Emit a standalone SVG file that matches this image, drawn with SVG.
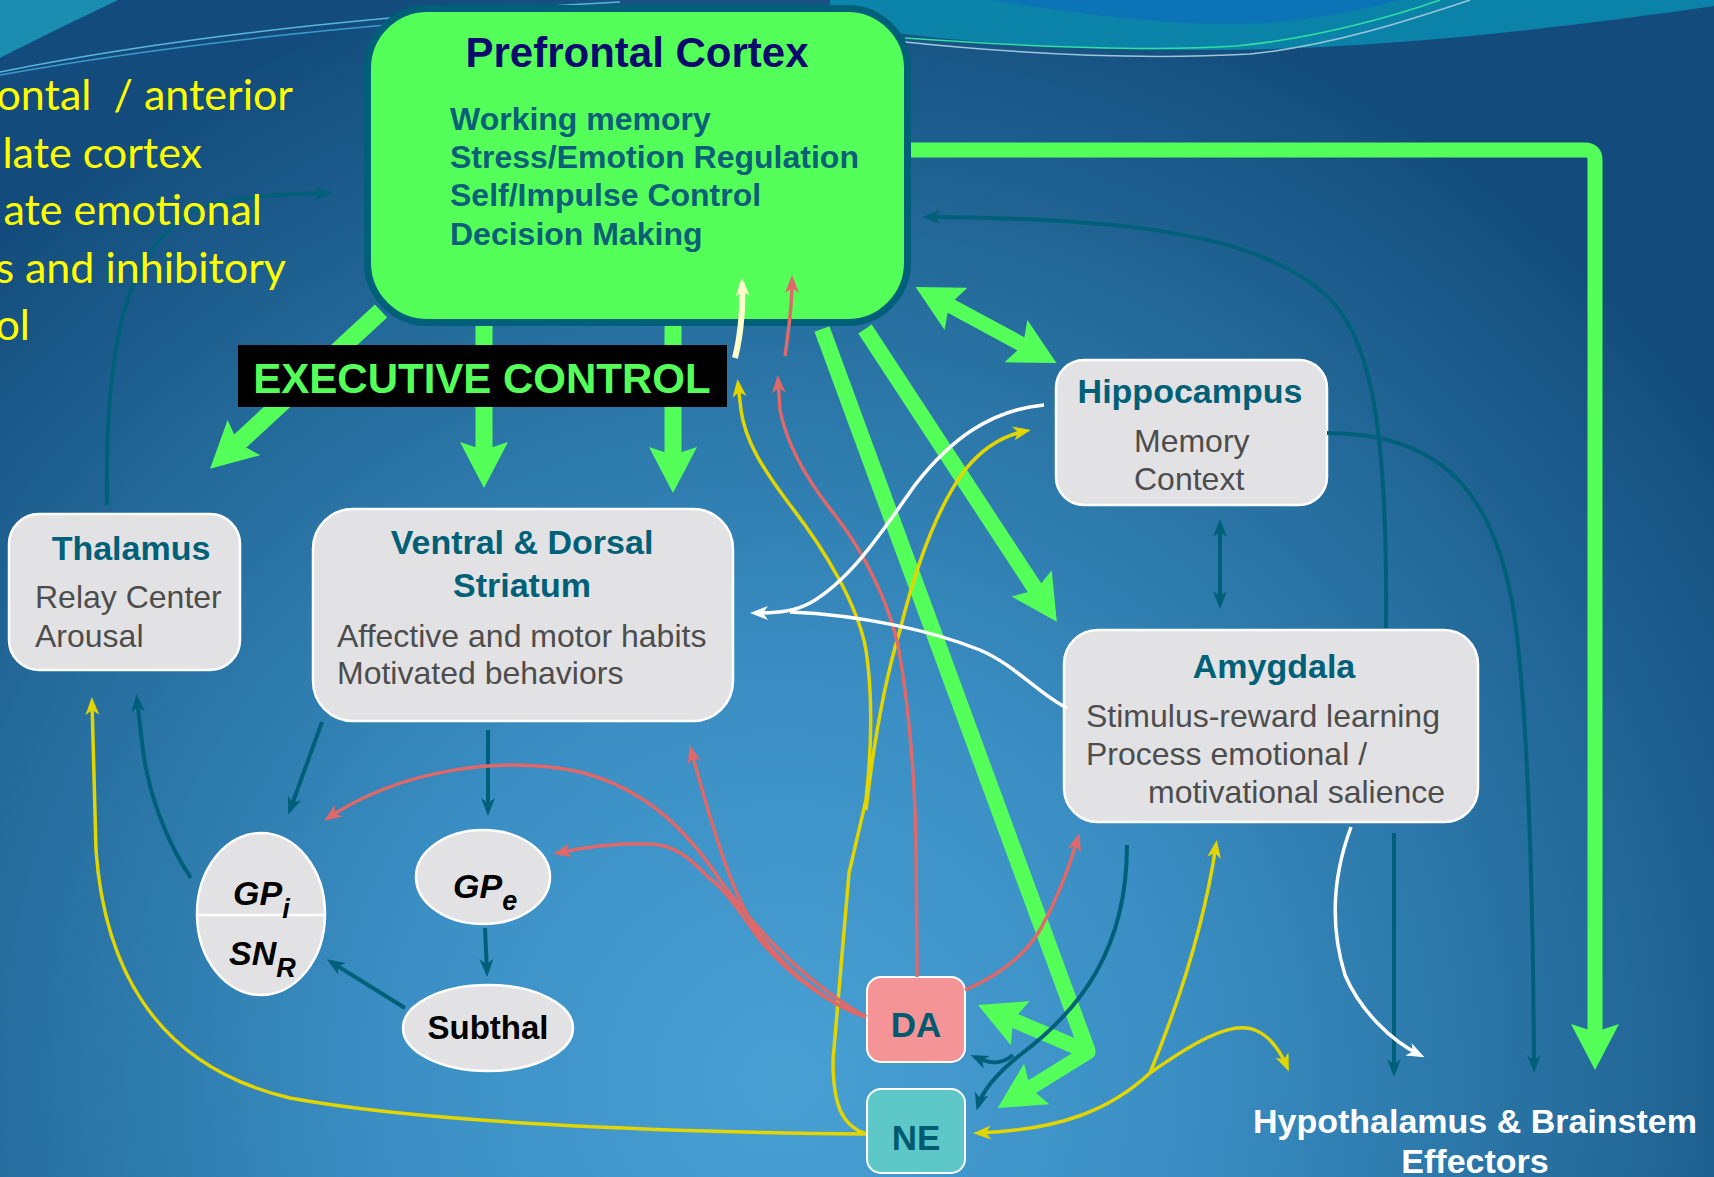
<svg xmlns="http://www.w3.org/2000/svg" width="1714" height="1177" viewBox="0 0 1714 1177">
<defs>
<radialGradient id="bg" cx="780" cy="1080" r="1150" gradientUnits="userSpaceOnUse">
<stop offset="0" stop-color="#48a0d3"/>
<stop offset="0.35" stop-color="#3a8ec3"/>
<stop offset="0.7" stop-color="#256d9d"/>
<stop offset="1" stop-color="#134c7c"/>
</radialGradient>
<marker id="mT" viewBox="-20 -8 26 16" markerWidth="26" markerHeight="16" refX="-5" refY="0" orient="auto" markerUnits="userSpaceOnUse"><path d="M0,0 L-18,-7 L-13,0 L-18,7 Z" fill="#00607a"/></marker>
<marker id="mT2" viewBox="-20 -8 26 16" markerWidth="26" markerHeight="16" refX="-5" refY="0" orient="auto-start-reverse" markerUnits="userSpaceOnUse"><path d="M0,0 L-18,-7 L-13,0 L-18,7 Z" fill="#00607a"/></marker>
<marker id="mY" viewBox="-20 -8 26 16" markerWidth="26" markerHeight="16" refX="-5" refY="0" orient="auto" markerUnits="userSpaceOnUse"><path d="M0,0 L-18,-7 L-13,0 L-18,7 Z" fill="#e3d600"/></marker>
<marker id="mR" viewBox="-20 -8 26 16" markerWidth="26" markerHeight="16" refX="-5" refY="0" orient="auto" markerUnits="userSpaceOnUse"><path d="M0,0 L-18,-7 L-13,0 L-18,7 Z" fill="#e06868"/></marker>
<marker id="mW" viewBox="-20 -8 26 16" markerWidth="26" markerHeight="16" refX="-5" refY="0" orient="auto" markerUnits="userSpaceOnUse"><path d="M0,0 L-18,-7 L-13,0 L-18,7 Z" fill="#ffffff"/></marker>
<marker id="mC" viewBox="-20 -8 26 16" markerWidth="26" markerHeight="16" refX="-5" refY="0" orient="auto" markerUnits="userSpaceOnUse"><path d="M0,0 L-18,-7 L-13,0 L-18,7 Z" fill="#ffffcc"/></marker>
<marker id="mG" viewBox="-2 -26 52 52" markerWidth="52" markerHeight="52" refX="8" refY="0" orient="auto-start-reverse" markerUnits="userSpaceOnUse"><path d="M46,0 L0,-24 L8,0 L0,24 Z" fill="#55ff5a"/></marker>
<style>
.g{fill:none;stroke:#55ff5a;stroke-linecap:butt}
.t{fill:none;stroke:#00607a;stroke-width:4}
.y{fill:none;stroke:#e3d600;stroke-width:3.5}
.r{fill:none;stroke:#e06868;stroke-width:3.5}
.w{fill:none;stroke:#ffffff;stroke-width:3.5}
.box{fill:#e2e2e4;stroke:#ffffff;stroke-width:2.5}
.ttl{font-family:"Liberation Sans",Arial,sans-serif;font-weight:bold;font-size:34px;fill:#006078}
.dsc{font-family:"Liberation Sans",Arial,sans-serif;font-size:32px;fill:#4d4d4d}
.gp{font-family:"Liberation Sans",Arial,sans-serif;font-weight:bold;font-style:italic;font-size:34px;fill:#000000}
.side{font-family:Lato,"Open Sans",sans-serif;font-size:43px;fill:#ffff00;white-space:pre}
</style>
</defs>
<rect x="0" y="0" width="1714" height="1177" fill="url(#bg)"/>
<g id="decor">
<path d="M0,0 L118,0 C80,18 35,40 0,58 Z" fill="#1a8db0"/>
<path d="M830,0 L1714,0 L1714,6 C1560,28 1380,50 1200,50 C1060,50 950,42 830,24 Z" fill="#0b8db0" opacity="0.85"/>
<path d="M990,0 L1400,0 C1340,15 1290,24 1230,24 C1150,24 1070,12 990,0 Z" fill="#0b74b6"/>
<path d="M0,72 C150,42 350,16 620,2" fill="none" stroke="#5ab7dc" stroke-width="1.5"/>
<path d="M0,75 C160,46 360,22 640,8" fill="none" stroke="#3a9ccc" stroke-width="1.5"/>
<path d="M905,38 C1020,46 1150,52 1236,46 C1320,38 1400,14 1440,0" fill="none" stroke="#2fe0a0" stroke-width="1.5"/>
<path d="M905,42 C1020,54 1140,60 1250,54 C1330,46 1410,20 1470,0" fill="none" stroke="#9fc6d8" stroke-width="1.5"/>
</g>
<g id="pfc">
<rect x="367.5" y="8.5" width="540" height="314" rx="60" fill="#55ff5a" stroke="#00607a" stroke-width="7"/>
<text x="637" y="67" text-anchor="middle" font-family="Liberation Sans, Arial, sans-serif" font-weight="bold" font-size="42" fill="#0b0b6e">Prefrontal Cortex</text>
<g font-family="Liberation Sans, Arial, sans-serif" font-weight="bold" font-size="32" fill="#0b6078">
<text x="450" y="130">Working memory</text>
<text x="450" y="168">Stress/Emotion Regulation</text>
<text x="450" y="206">Self/Impulse Control</text>
<text x="450" y="245">Decision Making</text>
</g>
</g>
<g id="thalamus">
<rect class="box" x="9" y="514" width="231" height="156" rx="30"/>
<text class="ttl" x="131" y="560" text-anchor="middle">Thalamus</text>
<text class="dsc" x="35" y="608">Relay Center</text>
<text class="dsc" x="35" y="647">Arousal</text>
</g>
<g id="striatum">
<rect class="box" x="313" y="509" width="420" height="212" rx="40"/>
<text class="ttl" x="522" y="554" text-anchor="middle">Ventral &amp; Dorsal</text>
<text class="ttl" x="522" y="597" text-anchor="middle">Striatum</text>
<text class="dsc" x="337" y="647">Affective and motor habits</text>
<text class="dsc" x="337" y="684">Motivated behaviors</text>
</g>
<g id="hippocampus">
<rect class="box" x="1056" y="360" width="271" height="145" rx="28"/>
<text class="ttl" x="1190" y="403" text-anchor="middle">Hippocampus</text>
<text class="dsc" x="1134" y="452">Memory</text>
<text class="dsc" x="1134" y="490">Context</text>
</g>
<g id="amygdala">
<rect class="box" x="1064" y="630" width="414" height="192" rx="34"/>
<text class="ttl" x="1274" y="678" text-anchor="middle">Amygdala</text>
<text class="dsc" x="1086" y="727">Stimulus-reward learning</text>
<text class="dsc" x="1086" y="765">Process emotional /</text>
<text class="dsc" x="1148" y="803">motivational salience</text>
</g>
<g id="gpi-snr">
<ellipse class="box" cx="261" cy="914" rx="64" ry="81"/>
<line x1="197" y1="915" x2="325" y2="915" stroke="#ffffff" stroke-width="2.5"/>
<text class="gp" x="233" y="905">GP<tspan font-size="27" dy="13">i</tspan></text>
<text class="gp" x="229" y="965">SN<tspan font-size="27" dy="12">R</tspan></text>
</g>
<g id="gpe">
<ellipse class="box" cx="483" cy="877" rx="67" ry="47"/>
<text class="gp" x="453" y="898">GP<tspan font-size="27" dy="12">e</tspan></text>
</g>
<g id="subthal">
<ellipse class="box" cx="488" cy="1028" rx="85" ry="43"/>
<text x="488" y="1039" text-anchor="middle" font-family="Liberation Sans, Arial, sans-serif" font-weight="bold" font-size="33" fill="#000000">Subthal</text>
</g>
<g id="da">
<rect x="867" y="977" width="98" height="85" rx="14" fill="#f49497" stroke="#ffffff" stroke-width="2"/>
<text x="916" y="1037" text-anchor="middle" font-family="Liberation Sans, Arial, sans-serif" font-weight="bold" font-size="35" fill="#005a70">DA</text>
</g>
<g id="ne">
<rect x="867" y="1089" width="98" height="84" rx="14" fill="#5ec8c8" stroke="#ffffff" stroke-width="2"/>
<text x="916" y="1150" text-anchor="middle" font-family="Liberation Sans, Arial, sans-serif" font-weight="bold" font-size="35" fill="#005a70">NE</text>
</g>
<g id="effectors" font-family="Liberation Sans, Arial, sans-serif" font-weight="bold" font-size="34" fill="#ffffff" text-anchor="middle">
<text x="1475" y="1133">Hypothalamus &amp; Brainstem</text>
<text x="1475" y="1173">Effectors</text>
</g>
<g id="connectors">
<path class="g" d="M381,311 L238,443" stroke-width="18" marker-end="url(#mG)"/>
<path class="g" d="M484,326 L484,450" stroke-width="17" marker-end="url(#mG)"/>
<path class="g" d="M673,326 L673,455" stroke-width="17" marker-end="url(#mG)"/>
<path class="g" d="M949,305 L1023,345" stroke-width="15" marker-start="url(#mG)" marker-end="url(#mG)"/>
<path class="g" d="M911,150 L1585,150 Q1595,150 1595,160 L1595,1032" stroke-width="15" stroke-linejoin="round" marker-end="url(#mG)"/>
<path class="g" d="M865,329 L1036,590" stroke-width="16" marker-end="url(#mG)"/>
<path class="g" d="M822,329 L1088,1052" stroke-width="16"/>
<path class="g" d="M1013,1020 L1088,1052 L1030,1088" stroke-width="15" stroke-linejoin="round" marker-start="url(#mG)" marker-end="url(#mG)"/>
<path class="t" d="M107,505 C104,330 130,245 200,207 C240,196 285,194 328,193" marker-end="url(#mT)"/>
<path class="t" d="M1386,628 C1388,420 1370,330 1320,290 C1260,240 1150,218 927,217" marker-end="url(#mT)"/>
<path class="t" d="M1327,433 C1430,433 1495,480 1515,620 C1528,720 1533,880 1534,1068" marker-end="url(#mT)"/>
<path class="t" d="M1394,833 L1394,1072" marker-end="url(#mT)"/>
<path class="t" d="M1127,845 C1127,950 1080,1010 1020,1055 C995,1075 982,1092 978,1106" marker-end="url(#mT)"/>
<path class="t" d="M1013,1055 C1000,1066 988,1063 975,1057" marker-end="url(#mT)"/>
<path class="t" d="M322,722 L290,810" marker-end="url(#mT)"/>
<path class="t" d="M488,730 L488,811" marker-end="url(#mT)"/>
<path class="t" d="M485,928 L487,972" marker-end="url(#mT)"/>
<path class="t" d="M405,1008 L331,962" stroke-width="6" marker-end="url(#mT)"/>
<path class="t" d="M191,878 C165,840 148,790 143,750 C140,725 138,710 137,699" marker-end="url(#mT)"/>
<path class="t" d="M1220,524 L1220,604" stroke-width="3" marker-start="url(#mT2)" marker-end="url(#mT2)"/>
<path class="y" d="M866,1134 C650,1132 420,1122 290,1098 C150,1065 104,960 96,850 L92,702" marker-end="url(#mY)"/>
<path class="y" d="M866,1134 C842,1126 833,1105 833,1060 L849,873 L866,800 C872,745 872,690 866,650 C858,605 825,550 790,505 C762,468 745,440 741,410 L738,384" marker-end="url(#mY)"/>
<path class="y" d="M866,810 C875,730 888,670 900,630 C915,570 935,510 965,470 C985,445 1005,435 1026,431" marker-end="url(#mY)"/>
<path class="y" d="M1150,1073 C1110,1110 1060,1130 978,1133" marker-end="url(#mY)"/>
<path class="y" d="M1150,1073 C1180,1000 1205,920 1216,845" marker-end="url(#mY)"/>
<path class="y" d="M1150,1073 C1190,1045 1230,1020 1255,1030 C1272,1037 1282,1055 1287,1067" marker-end="url(#mY)"/>
<path class="r" d="M917,977 L916,840 C914,760 908,700 898,645 C890,610 870,560 835,515 C805,478 787,445 780,410 L778,380" marker-end="url(#mR)"/>
<path class="r" d="M866,1017 C830,1005 790,975 760,935 C735,900 720,850 705,800 L691,750" marker-end="url(#mR)"/>
<path class="r" d="M866,1017 C820,1000 785,970 760,940 C740,912 726,890 708,877 C690,858 675,845 650,844 C620,843 590,846 558,853" marker-end="url(#mR)"/>
<path class="r" d="M866,1017 C810,985 760,935 720,880 C690,835 650,790 580,772 C500,755 400,770 328,818" marker-end="url(#mR)"/>
<path class="r" d="M965,990 C1000,975 1025,955 1040,930 C1058,898 1070,865 1078,838" marker-end="url(#mR)"/>
<path class="r" d="M785,356 C790,322 792,300 792,280" stroke-width="6" marker-end="url(#mR)"/>
<path fill="none" stroke="#ffffcc" stroke-width="6" d="M735,358 C742,330 743,300 742,283" marker-end="url(#mC)"/>
<path class="w" d="M1044,405 C990,410 950,440 915,485 C880,535 850,580 810,603 C795,611 780,613 755,613" marker-end="url(#mW)"/>
<path class="w" d="M1067,708 C1040,695 1015,665 980,650 C930,630 860,615 790,612"/>
<path class="w" d="M1351,827 C1335,870 1328,920 1345,975 C1360,1010 1390,1040 1420,1055" stroke-width="2" marker-end="url(#mW)"/>
</g>
<g id="side-text" class="side" text-anchor="end">
<text x="293" y="110" xml:space="preserve">ontal  / anterior</text>
<text x="202" y="168">late cortex</text>
<text x="262" y="225">ate emotional</text>
<text x="286" y="283">s and inhibitory</text>
<text x="30" y="340">ol</text>
</g>
<g id="executive-control">
<rect x="238" y="345" width="489" height="62" fill="#000000"/>
<text x="482" y="393" text-anchor="middle" font-family="Liberation Sans, Arial, sans-serif" font-weight="bold" font-size="42" fill="#55ff5a">EXECUTIVE CONTROL</text>
</g>
</svg>
